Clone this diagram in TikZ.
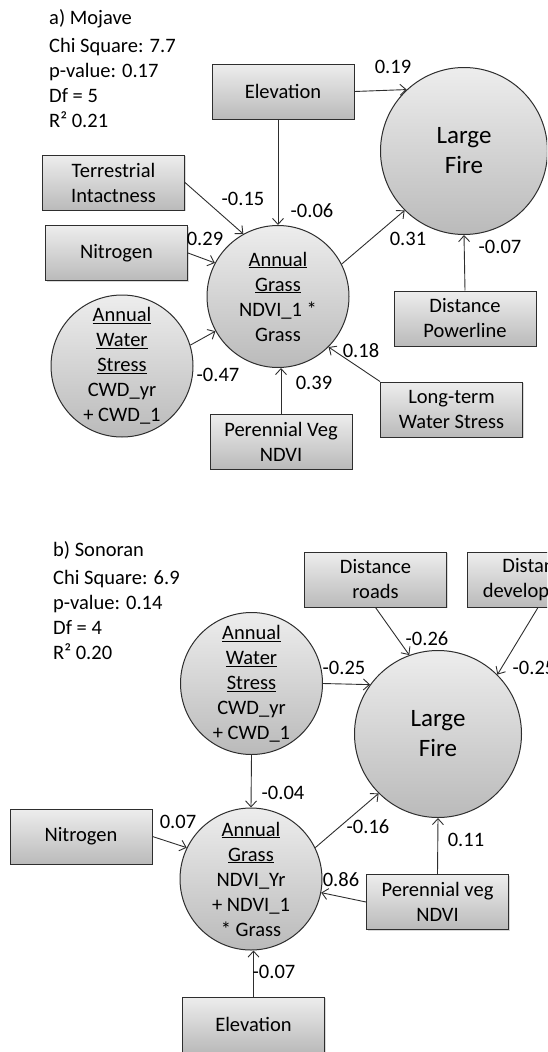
\documentclass[tikz,border=0pt]{standalone}
\usepackage{fontspec}
\setmainfont{Carlito}
\usetikzlibrary{arrows.meta, shadows}
\colorlet{edgecolor}{black!82}
\colorlet{fillhigh}{black!7}
\colorlet{filllow}{black!27}

\begin{document}
\begin{tikzpicture}[x=1pt, y=-1pt, inner sep=0pt,
    font=\fontsize{20.5}{25}\selectfont,
    varbox/.style={draw=edgecolor, line width=1pt, top color=fillhigh, bottom color=filllow,
      minimum width=142pt, minimum height=55pt, align=center,
      drop shadow={shadow xshift=1.2pt, shadow yshift=-1.2pt, opacity=0.3}},
    latent/.style={circle, draw=edgecolor, line width=1pt, top color=fillhigh, bottom color=filllow,
      minimum size=142pt, inner sep=-4pt, align=center},
    bigfire/.style={latent, minimum size=167pt, font=\fontsize{25}{30}\selectfont},
    effect/.style={draw=edgecolor, line width=0.9pt, -{Straight Barb[length=6pt, width=11pt]}}]

  % Page of 547 by 1052, one unit per pixel, y running down.
  \useasboundingbox (0,0) rectangle (547,1052);
  \clip (0,0) rectangle (547,1052);

  % ---- a) Mojave ----
  \node[anchor=base west] (mtitle) at (49,24) {a) Mojave};
  \node[anchor=north west, align=left] (mstats) at (49,38)
    {Chi Square: 7.7\\p-value: 0.17\\Df = 5\\R² 0.21};

  \node[varbox] (melev) at (283,91.5) {Elevation};
  \node[bigfire] (mfire) at (464,151) {Large\\Fire};
  \node[varbox] (mterr) at (113.5,182.5) {Terrestrial\\Intactness};
  \node[varbox] (mnitro) at (116.5,253) {Nitrogen};
  \node[latent] (mgrass) at (278,296.5)
    {\underline{Annual}\\\underline{Grass}\\NDVI\_1 *\\Grass};
  \node[latent] (mwater) at (122,366)
    {\underline{Annual}\\\underline{Water}\\\underline{Stress}\\CWD\_yr\\+ CWD\_1};
  \node[varbox] (mpower) at (465,318.5) {Distance\\Powerline};
  \node[varbox] (mlong) at (451.5,409.5) {Long-term\\Water Stress};
  \node[varbox] (mperen) at (281,441.5) {Perennial Veg\\NDVI};

  \draw[effect] (melev.east) -- (mfire.133);
  \draw[effect] (melev.south -| mgrass.north) -- (mgrass.north);
  \draw[effect] (mterr.east) -- (mgrass.119);
  \draw[effect] (mnitro.east) -- (mgrass.152);
  \draw[effect] (mwater.17) -- (mgrass.209);
  \draw[effect] (mperen.north) -- (mperen.north |- mgrass.south);
  \draw[effect] (mlong.north west) -- (mgrass.-45);
  \draw[effect] (mgrass.27) -- (mfire.225);
  \draw[effect] (mpower.north) -- (mfire.south);

  % path coefficients
  \node (mc1) at (393,67) {0.19};
  \node (mc2) at (243,199) {-0.15};
  \node (mc3) at (312,211) {-0.06};
  \node (mc4) at (205,239) {0.29};
  \node (mc5) at (218,375) {-0.47};
  \node (mc6) at (408,239) {0.31};
  \node (mc7) at (500,247) {-0.07};
  \node (mc8) at (361,351) {0.18};
  \node (mc9) at (314,383) {0.39};

  % ---- b) Sonoran ----
  \node[anchor=base west] (stitle) at (53,556) {b) Sonoran};
  \node[anchor=north west, align=left] (sstats) at (53,570)
    {Chi Square: 6.9\\p-value: 0.14\\Df = 4\\R² 0.20};

  \node[varbox] (sroads) at (375.5,579.5) {Distance\\roads};
  \node[varbox] (sdevel) at (538,579.5) {Distance\\development};
  \node[latent] (swater) at (251.5,683.5)
    {\underline{Annual}\\\underline{Water}\\\underline{Stress}\\CWD\_yr\\+ CWD\_1};
  \node[bigfire] (sfire) at (438,734) {Large\\Fire};
  \node[latent] (sgrass) at (251,879)
    {\underline{Annual}\\\underline{Grass}\\NDVI\_Yr\\+ NDVI\_1\\* Grass};
  \node[varbox] (snitro) at (81,836.5) {Nitrogen};
  \node[varbox] (speren) at (437.5,902) {Perennial veg\\NDVI};
  \node[varbox] (selev) at (253.5,1024.5) {Elevation};

  \draw[effect] (sroads.south) -- (sfire.110);
  \draw[effect] (sdevel.south) -- (sfire.45);
  \draw[effect] (swater.east) -- (sfire.144);
  \draw[effect] (swater.south) -- (sgrass.north);
  \draw[effect] (sgrass.26) -- (sfire.225);
  \draw[effect] (snitro.east) -- (sgrass.154);
  \draw[effect] (speren.west) -- (sgrass.-11);
  \draw[effect] (speren.north) -- (sfire.south);
  \draw[effect] (selev.north) -- (selev.north |- sgrass.south);

  % path coefficients
  \node (sc1) at (427,639) {-0.26};
  \node (sc2) at (344,668) {-0.25};
  \node (sc3) at (534,668) {-0.25};
  \node (sc4) at (283,793) {-0.04};
  \node (sc5) at (178,822) {0.07};
  \node (sc6) at (368,827) {-0.16};
  \node (sc7) at (466,840) {0.11};
  \node (sc8) at (341,880) {0.86};
  \node (sc9) at (274,972) {-0.07};

\end{tikzpicture}
\end{document}
